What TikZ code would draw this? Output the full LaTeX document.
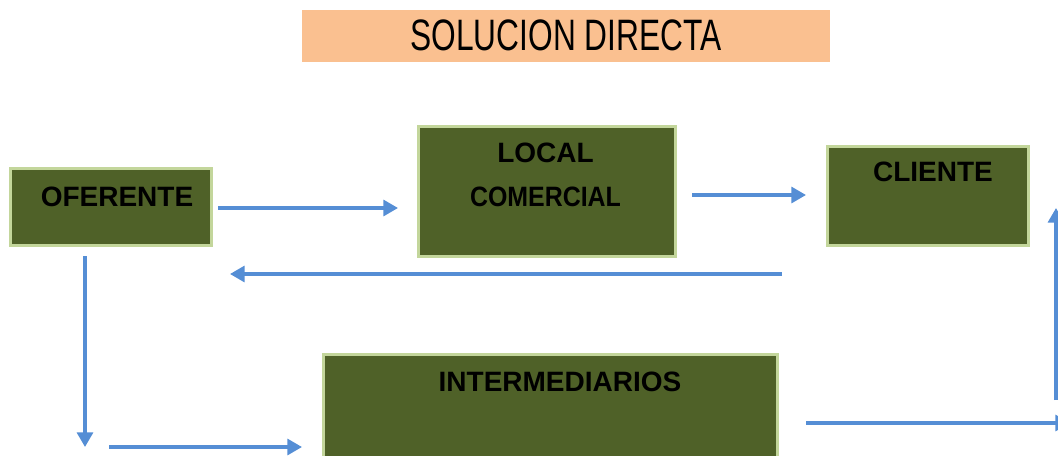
\documentclass[tikz,border=0pt]{standalone}
\usepackage{fontspec}
\setmainfont{Liberation Sans}
\usepackage{tikz}
\usetikzlibrary{arrows.meta}
\definecolor{tituloFondo}{HTML}{FAC090}
\definecolor{cajaFondo}{HTML}{4F6128}
\definecolor{cajaBorde}{HTML}{C3D69B}
\definecolor{flecha}{HTML}{558ED5}
\newlength{\pxu}
\setlength{\pxu}{0.75pt}

\begin{document}
\begin{tikzpicture}[line join=miter,>={Triangle[length=11pt,width=12pt]},x=0.75pt,y=-0.75pt,
  caja/.style={draw=cajaBorde,line width=2.4pt,fill=cajaFondo,inner sep=0pt},
  texto/.style={font=\fontsize{21}{33}\selectfont\bfseries,text=black,inner sep=0pt,align=center},
  flujo/.style={->,draw=flecha,line width=2.4pt}]
  \clip (0,0) rectangle (1058,455);
  % titulo
  \node[fill=tituloFondo,minimum width=528\pxu,minimum height=52\pxu,inner sep=0pt,
        font=\fontsize{33}{36}\selectfont] (titulo) at (566,35.5) {\scalebox{0.72}[1]{SOLUCION DIRECTA}};
  % cajas
  \node[caja,minimum width=201\pxu,minimum height=77\pxu] (ofe) at (111,207) {};
  \node[texto] (ofeT) at (117,197) {OFERENTE};
  \node[caja,minimum width=257\pxu,minimum height=130\pxu] (loc) at (547,191.5) {};
  \node[texto] (locT) at (545.5,174.5) {LOCAL\\\scalebox{0.89}[1]{COMERCIAL}};
  \node[caja,minimum width=201\pxu,minimum height=99\pxu] (cli) at (928,196) {};
  \node[texto] (cliT) at (933,172) {CLIENTE};
  \node[caja,minimum width=454\pxu,minimum height=124\pxu] (inter) at (550.5,416.5) {};
  \node[texto] (interT) at (560,382) {INTERMEDIARIOS};
  % extremos de las flechas
  \coordinate (a1) at (218,208);  \coordinate (b1) at (398,208);
  \coordinate (a2) at (692,195);  \coordinate (b2) at (806,195);
  \coordinate (a3) at (782,274);  \coordinate (b3) at (230,274);
  \coordinate (a4) at (85,256);   \coordinate (b4) at (85,447);
  \coordinate (a5) at (109,447);  \coordinate (b5) at (302,447);
  \coordinate (a6) at (806,423);  \coordinate (b6) at (1070,423);
  \coordinate (a7) at (1056,400); \coordinate (b7) at (1056,208);
  \foreach \i in {1,...,7}
    \draw[flujo] (a\i) -- (b\i);
\end{tikzpicture}
\end{document}
